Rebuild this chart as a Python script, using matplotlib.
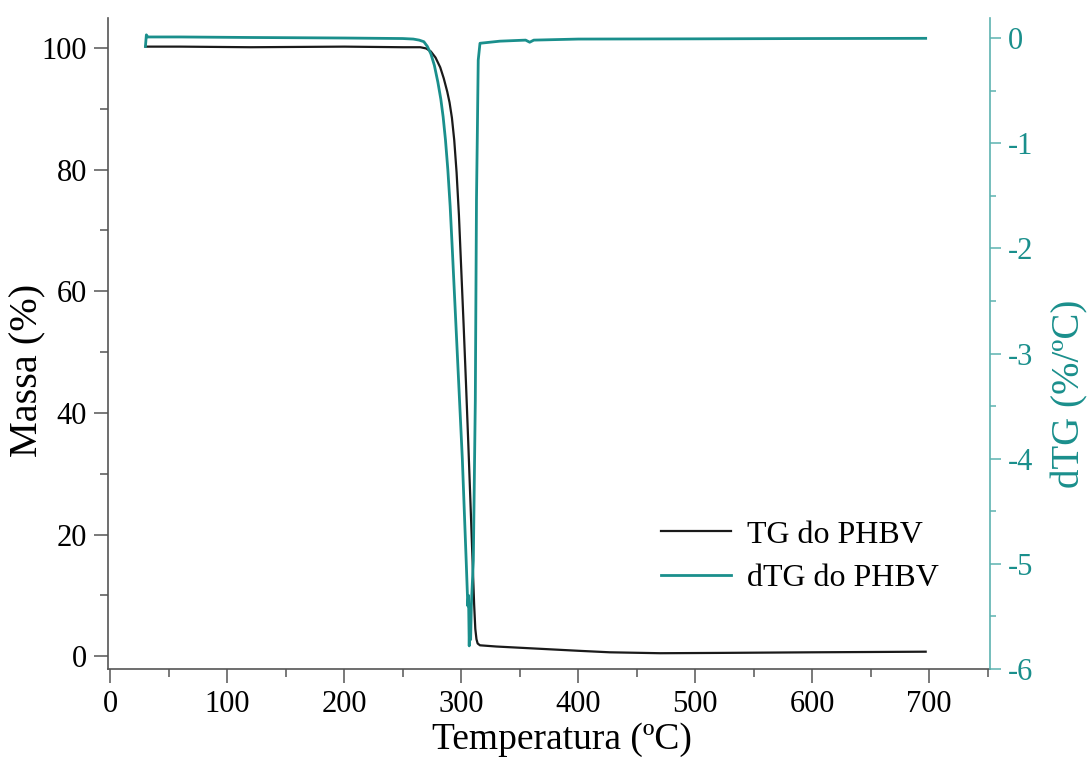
import numpy as np
import matplotlib
matplotlib.use("Agg")
import matplotlib.pyplot as plt
from matplotlib.ticker import MultipleLocator

plt.rcParams['font.family'] = ['Liberation Serif', 'DejaVu Serif']

# TG curve: temperature (°C) and remaining mass (%)
tg_temp = [30, 60, 120, 200, 250, 265, 270, 274, 278, 282, 285, 288, 290,
           292, 294, 296, 298, 300, 302, 304, 306, 308, 309.5, 311, 312, 313,
           314, 316, 330, 360, 400, 427, 470, 520, 600, 650, 697]
tg_mass = [100.2, 100.2, 100.1, 100.2, 100.1, 100.1, 99.9, 99.4, 98.4, 96.8,
           95.0, 92.8, 91.0, 88.5, 84.8, 79.5, 72.5, 63.5, 54.5, 45.0, 35.0,
           24.5, 16.5, 8.5, 4.5, 2.8, 2.1, 1.8, 1.6, 1.3, 0.9, 0.65, 0.5,
           0.55, 0.65, 0.7, 0.75]

# dTG curve: temperature (°C) and derivative (%/°C)
dtg_temp = [30, 30.8, 32, 60, 120, 200, 250, 259, 264, 268, 271, 274, 277,
            280, 282.5, 284.5, 286.5, 288.5, 290.5, 292.3, 296.6, 300.9,
            304.3, 305.6, 306.2, 306.8, 307.4, 308.0, 308.6, 309.4, 310.3,
            312, 313, 313.7, 314.5, 316, 333, 355, 358.5, 362, 400, 500, 600,
            697]
dtg_val = [-0.08, 0.03, 0.01, 0.01, 0.005, 0.0, -0.005, -0.01, -0.02, -0.035,
           -0.08, -0.15, -0.26, -0.42, -0.58, -0.75, -0.97, -1.25, -1.6, -2.0,
           -3.0, -4.0, -5.0, -5.4, -5.3, -5.78, -5.45, -5.72, -5.4, -5.2,
           -4.97, -3.45, -1.54, -0.94, -0.21, -0.05, -0.03, -0.02, -0.04,
           -0.02, -0.01, -0.008, -0.005, -0.003]

x_ticks = [0, 100, 200, 300, 400, 500, 600, 700]
mass_ticks = [0, 20, 40, 60, 80, 100]
dtg_ticks = [0, -1, -2, -3, -4, -5, -6]

teal = '#1a8f8c'
teal_spine = '#5db3b0'
axis_gray = '#555555'

fig = plt.figure(figsize=(10.92, 7.64), dpi=100)
ax = fig.add_axes([0.0989, 0.1243, 0.8077, 0.8521])
ax2 = ax.twinx()

ln1, = ax.plot(tg_temp, tg_mass, color='#1a1a1a', lw=1.6, label='TG do PHBV')
ln2, = ax2.plot(dtg_temp, dtg_val, color=teal, lw=2.0, label='dTG do PHBV')

ax.set_xlim(-2, 752)
ax.set_ylim(-2.1, 104.9)
ax2.set_ylim(-6.0, 0.19)

ax.set_xticks(x_ticks)
ax.set_yticks(mass_ticks)
ax2.set_yticks(dtg_ticks)
ax2.set_yticklabels(['0', '-1', '-2', '-3', '-4', '-5', '-6'])
ax.xaxis.set_minor_locator(MultipleLocator(50))
ax.yaxis.set_minor_locator(MultipleLocator(10))
ax2.yaxis.set_minor_locator(MultipleLocator(0.5))

for a in (ax, ax2):
    a.spines['top'].set_visible(False)

ax.spines['left'].set_color(axis_gray)
ax.spines['bottom'].set_color(axis_gray)
ax.spines['right'].set_visible(False)
ax2.spines['left'].set_visible(False)
ax2.spines['bottom'].set_visible(False)
ax2.spines['right'].set_color(teal_spine)
for s in ('left', 'bottom'):
    ax.spines[s].set_linewidth(1.2)
ax2.spines['right'].set_linewidth(1.2)

ax.tick_params(axis='both', which='major', direction='out', length=10,
               width=1.1, color=axis_gray, labelsize=22, pad=5)
ax.tick_params(axis='both', which='minor', direction='out', length=5.5,
               width=1.1, color=axis_gray)
ax2.tick_params(axis='y', which='major', direction='out', length=8,
                width=1.1, color=teal_spine, labelcolor=teal, labelsize=22,
                pad=5)
ax2.tick_params(axis='y', which='minor', direction='out', length=4.5,
                width=1.1, color=teal_spine)

ax.set_xlabel('Temperatura (ºC)', fontsize=27)
ax.set_ylabel('Massa (%)', fontsize=29)
ax2.set_ylabel('dTG (%/ºC)', fontsize=28, color=teal)
ax.xaxis.set_label_coords(0.515, -0.082)
ax.yaxis.set_label_coords(-0.070, 0.459)
ax2.yaxis.set_label_coords(1.070, 0.422)

ax.legend(handles=[ln1, ln2], loc='lower right', bbox_to_anchor=(0.975, 0.072),
          frameon=False, fontsize=23, handlelength=2.2, handletextpad=0.5,
          labelspacing=0.45)

fig.savefig('out.png', dpi=100)
